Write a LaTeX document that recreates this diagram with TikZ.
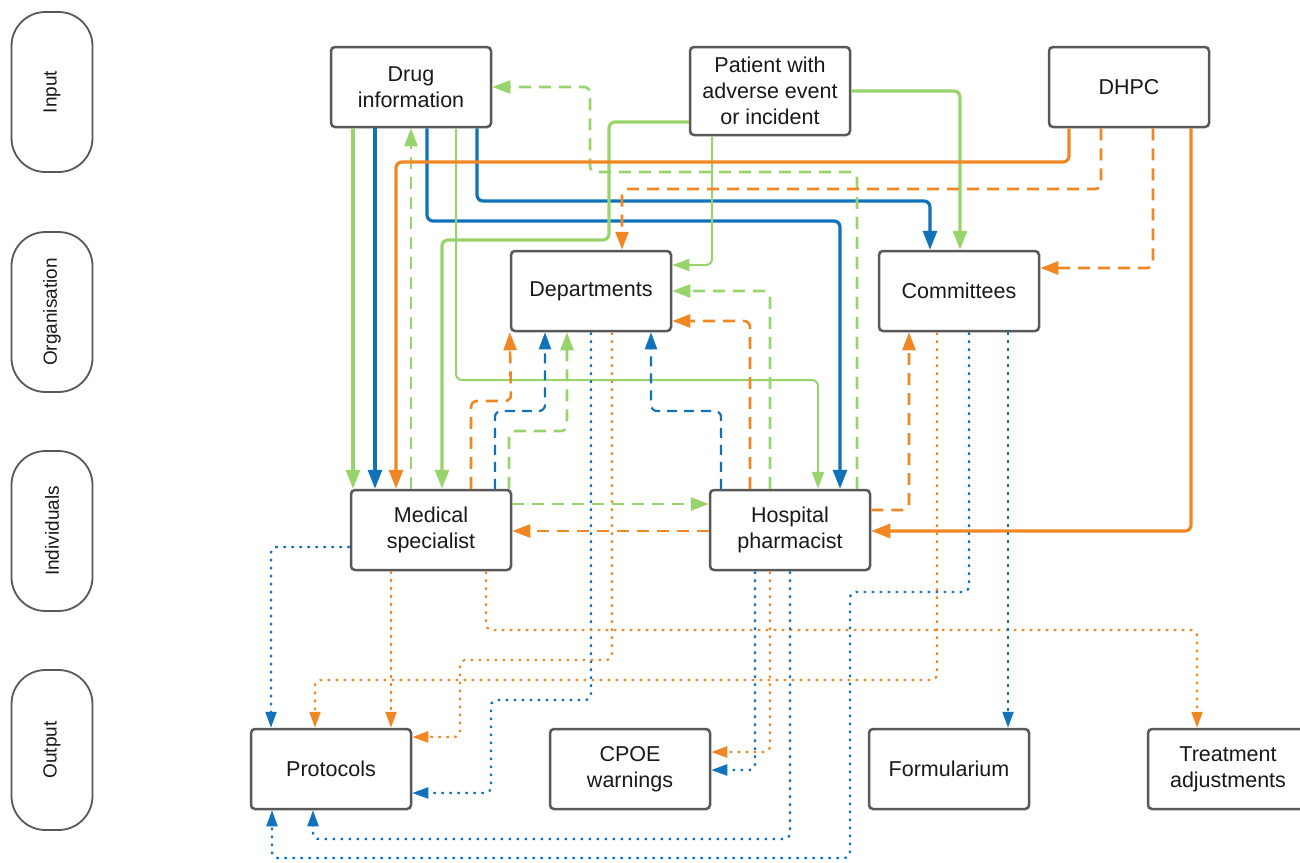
\documentclass[tikz,border=0pt]{standalone}
\usepackage{fontspec}
\setmainfont{Liberation Sans}
\usetikzlibrary{arrows.meta}
\definecolor{cg}{RGB}{152,212,108}
\definecolor{cb}{RGB}{16,114,186}
\definecolor{co}{RGB}{240,135,35}
\definecolor{bord}{RGB}{88,88,88}
\definecolor{txt}{RGB}{25,25,25}
\begin{document}
\begin{tikzpicture}[x=1pt,y=-1pt,
  box/.style={draw=bord,line width=2.5pt,rounded corners=4pt,fill=white,
    minimum width=160pt,minimum height=80pt,align=center,inner sep=2pt,
    font=\fontsize{21.5}{26}\selectfont,text=txt},
  lane/.style={draw=bord,line width=1.8pt,rounded corners=34pt,fill=white,
    minimum width=160pt,minimum height=81pt,rotate=90,
    font=\fontsize{19}{22}\selectfont,text=txt},
  conn/.style={rounded corners=6pt,line join=round},
  thk/.style={conn,line width=3.2pt,-{Triangle[length=19pt,width=14pt]}},
  thn/.style={conn,line width=2pt,-{Triangle[length=17pt,width=12pt]}},
  dsh/.style={conn,line width=2.6pt,dash pattern=on 12pt off 8pt,-{Triangle[length=18pt,width=13pt]}},
  dsb/.style={conn,line width=2.2pt,dash pattern=on 10pt off 7pt,-{Triangle[length=17pt,width=12pt]}},
  dot/.style={conn,line width=2.2pt,dash pattern=on 2.5pt off 5.5pt,-{Triangle[length=16pt,width=11pt]}}
]
\useasboundingbox (0,0) rectangle (1300,862);

% lanes
\node[lane] (lin) at (52,92) {Input};
\node[lane] (lorg) at (52,312) {Organisation};
\node[lane] (lind) at (52,531) {Individuals};
\node[lane] (lout) at (52,750) {Output};

% boxes
\node[box] (drug) at (411,87) {Drug\\information};
\node[box,minimum height=88pt] (patient) at (770,91) {Patient with\\adverse event\\or incident};
\node[box] (dhpc) at (1129,87) {DHPC};
\node[box] (dept) at (591,291) {Departments};
\node[box] (comm) at (959,291) {Committees};
\node[box] (med) at (431,530) {Medical\\specialist};
\node[box] (hosp) at (790,530) {Hospital\\pharmacist};
\node[box] (prot) at (331,769) {Protocols};
\node[box] (cpoe) at (630,769) {CPOE\\warnings};
\node[box] (form) at (949,769) {Formularium};
\node[box] (treat) at (1228,769) {Treatment\\adjustments};

% drug information
\draw[thk,cg] (353,0 |- drug.south) -- (353,0 |- med.north);
\draw[thk,cb] (375,0 |- drug.south) -- (375,0 |- med.north);
\draw[dsh,cg] (411,0 |- med.north) -- (411,0 |- drug.south);
\draw[thk,cb] (427,0 |- drug.south) -- (427,221) -- (840,221) -- (840,0 |- hosp.north);
\draw[thn,cg] (456,0 |- drug.south) -- (456,380) -- (818,380) -- (818,0 |- hosp.north);
\draw[thk,cb] (477,0 |- drug.south) -- (477,201) -- (930,201) -- (930,0 |- comm.north);
\draw[dsh,cg] (857,0 |- hosp.north) -- (857,172) -- (590,172) -- (590,87) -- (drug.east);

% patient
\draw[thk,cg] (patient.west |- 0,122) -- (609,122) -- (609,240) -- (442,240) -- (442,0 |- med.north);
\draw[thn,cg] (712,0 |- patient.south) -- (712,265) -- (dept.east |- 0,265);
\draw[thk,cg] (patient.east) -- (960,91) -- (960,0 |- comm.north);

% DHPC
\draw[thk,co] (1069,0 |- dhpc.south) -- (1069,162) -- (396,162) -- (396,0 |- med.north);
\draw[dsh,co] (1101,0 |- dhpc.south) -- (1101,189) -- (622,189) -- (622,0 |- dept.north);
\draw[dsh,co] (1153,0 |- dhpc.south) -- (1153,268) -- (comm.east |- 0,268);
\draw[thk,co] (1191,0 |- dhpc.south) -- (1191,531) -- (hosp.east |- 0,531);

% medical specialist -> departments
\draw[dsh,co] (471,0 |- med.north) -- (471,401) -- (511,401) -- (dept.south west);
\draw[dsb,cb] (495,0 |- med.north) -- (495,411) -- (545,411) -- (545,0 |- dept.south);
\draw[dsh,cg] (509,0 |- med.north) -- (509,431) -- (567,431) -- (567,0 |- dept.south);

% hospital pharmacist -> departments
\draw[dsb,cb] (721,0 |- hosp.north) -- (721,411) -- (651,411) -- (651,0 |- dept.south);
\draw[dsh,co] (750,0 |- hosp.north) -- (750,321) -- (dept.east |- 0,321);
\draw[dsh,cg] (770,0 |- hosp.north) -- (770,291) -- (dept.east |- 0,291);

% between individuals
\draw[dsh,cg] (med.east |- 0,504) -- (hosp.west |- 0,504);
\draw[dsh,co] (hosp.west |- 0,531) -- (med.east |- 0,531);
\draw[dsh,co] (hosp.east |- 0,510) -- (909,510) -- (909,0 |- comm.south);

% departments outputs
\draw[dot,cb] (591,0 |- dept.south) -- (591,700) -- (491,700) -- (491,793) -- (prot.east |- 0,793);
\draw[dot,co] (612,0 |- dept.south) -- (612,660) -- (460,660) -- (460,737) -- (prot.east |- 0,737);

% medical specialist outputs
\draw[dot,cb] (med.west |- 0,547) -- (271,547) -- (271,0 |- prot.north);
\draw[dot,co] (391,0 |- med.south) -- (391,0 |- prot.north);
\draw[dot,co] (486,0 |- med.south) -- (486,630) -- (1197,630) -- (1197,0 |- treat.north);

% hospital pharmacist outputs
\draw[dot,cb] (755,0 |- hosp.south) -- (755,770) -- (cpoe.east |- 0,770);
\draw[dot,co] (770,0 |- hosp.south) -- (770,752) -- (cpoe.east |- 0,752);
\draw[dot,cb] (790,0 |- hosp.south) -- (790,839) -- (313,839) -- (313,0 |- prot.south);

% committees outputs
\draw[dot,co] (937,0 |- comm.south) -- (937,680) -- (315,680) -- (315,0 |- prot.north);
\draw[dot,cb] (969,0 |- comm.south) -- (969,592) -- (850,592) -- (850,858) -- (272,858) -- (272,0 |- prot.south);
\draw[dot,cb] (1008,0 |- comm.south) -- (1008,0 |- form.north);
\end{tikzpicture}
\end{document}
